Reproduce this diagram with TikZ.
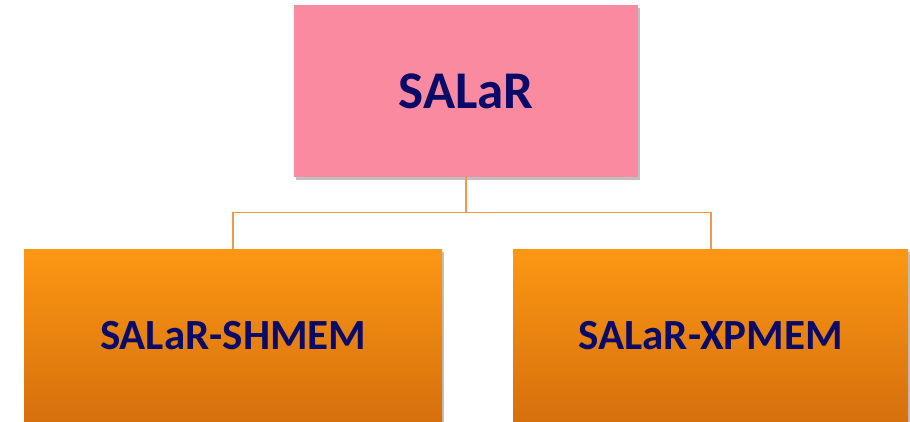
\documentclass[tikz,border=0pt]{standalone}
\usepackage{fontspec}
\setmainfont{Carlito}
\usetikzlibrary{shadows}
\definecolor{pinkbox}{RGB}{250,138,160}
\definecolor{orangetop}{RGB}{253,151,19}
\definecolor{orangebot}{RGB}{213,112,13}
\definecolor{linkc}{RGB}{247,150,70}
\definecolor{navy}{RGB}{10,10,105}
\tikzset{
  box/.style={rectangle, inner sep=0pt, anchor=north west, font=\bfseries, text=navy,
    drop shadow={shadow xshift=1.5pt, shadow yshift=-3pt, opacity=0.25, fill=black}},
  topbox/.style={box, fill=pinkbox, minimum width=344pt, minimum height=172pt, font=\fontsize{53}{60}\selectfont\bfseries},
  subbox/.style={box, top color=orangetop, bottom color=orangebot, minimum height=172pt, font=\fontsize{43}{50}\selectfont\bfseries},
  link/.style={draw=linkc, line width=1.5pt}
}
\begin{document}
\begin{tikzpicture}[x=1pt,y=-1pt]
\useasboundingbox (0,0) rectangle (910,421);
\node[topbox] (root) at (294,5) {SALaR};
\node[subbox, minimum width=418pt] (shmem) at (24,249) {SALaR-SHMEM};
\node[subbox, minimum width=395pt] (xpmem) at (513,249) {SALaR-XPMEM};
\coordinate (mid) at (466,212.5);
\draw[link] (root.south -| mid) -- (mid);
\draw[link] (shmem.north -| 233,0) |- (mid) -| (xpmem.north -| 711,0);
\end{tikzpicture}
\end{document}
